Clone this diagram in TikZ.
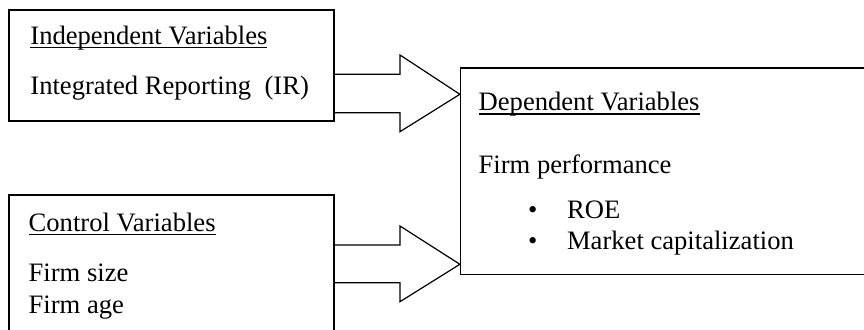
\documentclass[tikz,border=0pt]{standalone}
\usepackage{fontspec}
\setmainfont{Liberation Serif}
\usetikzlibrary{fit}
\newcommand{\myul}[1]{\setbox0\hbox{#1}\rlap{\rule[-1.8pt]{\wd0}{0.6pt}}\box0}
\tikzset{
  box/.style={draw, line width=0.6pt, inner sep=0pt},
  barrow/.style={draw, line width=0.6pt, line join=miter},
  txt/.style={anchor=base west, inner sep=0pt, font=\fontsize{13.3}{16}\selectfont},
  bul/.style={anchor=base, inner sep=0pt, font=\fontsize{13.3}{16}\selectfont}
}
\begin{document}
\begin{tikzpicture}[x=0.5pt, y=-0.5pt]
\useasboundingbox (0,0) rectangle (864,330);
\clip (0,0) rectangle (864,330);
% boxes
\node[box, fit={(9,10) (334,121)}] (ind) {};
\node[box, fit={(9,195) (334,345)}] (ctl) {};
\node[box, fit={(460.5,68) (880,274.3)}] (dep) {};
% block arrows
\draw[barrow] (ind.east |- 0,74.3) -- (400,74.3) -- (400,55) -- (dep.west |- 0,94.3)
  -- (400,131.7) -- (400,112.7) -- (ind.east |- 0,112.7);
\draw[barrow] (ctl.east |- 0,245) -- (400,245) -- (400,226) -- (dep.west |- 0,264.3)
  -- (400,301.7) -- (400,282.7) -- (ctl.east |- 0,282.7);
% texts
\node[txt] (t1) at (30,44.3) {\myul{Independent Variables}};
\node[txt] (t2) at (30,95) {Integrated Reporting\ \ (IR)};
\node[txt] (t3) at (28.3,231.7) {\myul{Control Variables}};
\node[txt] (t4) at (28.3,281.7) {Firm size};
\node[txt] (t5) at (28.3,313.3) {Firm age};
\node[txt] (t6) at (478.3,111) {\myul{Dependent Variables}};
\node[txt] (t7) at (478.3,173.3) {Firm performance};
\node[bul] (b1) at (532.7,219) {•};
\node[txt] (t8) at (566.7,219) {ROE};
\node[bul] (b2) at (532.7,250) {•};
\node[txt] (t9) at (566.7,250) {Market capitalization};
\end{tikzpicture}
\end{document}
